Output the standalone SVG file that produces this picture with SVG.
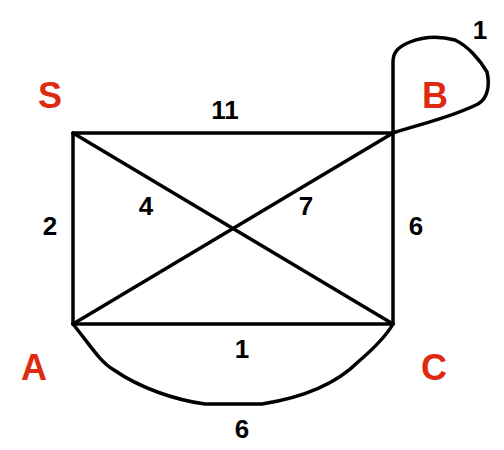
<svg xmlns="http://www.w3.org/2000/svg" width="504" height="450" viewBox="0 0 504 450">
<style>
.e{fill:none;stroke:#000;stroke-width:3.5;stroke-linejoin:round;stroke-linecap:round}
.n{font-family:"Liberation Sans",Arial,sans-serif;font-weight:bold;font-size:36px;fill:#dd2a10;text-anchor:middle}
.w{font-family:"Liberation Sans",Arial,sans-serif;font-weight:bold;font-size:26px;fill:#000;text-anchor:middle}
</style>
<rect width="504" height="450" fill="#fff"/>
<g id="edges">
<path class="e" d="M73,133 L393,133"/>
<path class="e" d="M73,133 L73,324"/>
<path class="e" d="M393,133 L393,324"/>
<path class="e" d="M73,324 L393,324"/>
<path class="e" d="M73,133 L393,324"/>
<path class="e" d="M393,133 L73,324"/>
<path class="e" d="M73,324 C90,345 100,362 114,370 C140,388 175,400 205,404 L262,404 C300,398 335,385 358,362 C372,350 385,338 393,324"/>
<path class="e" d="M393,133 L393,62 C393,52 398,47 410,42 C425,36 440,36 455,40 C468,46 480,60 487,72 C490,85 488,98 478,104 C450,118 420,124 393,133"/>
<text class="w" x="225" y="119">11</text>
<text class="w" x="50" y="235">2</text>
<text class="w" x="146" y="215">4</text>
<text class="w" x="306" y="215">7</text>
<text class="w" x="416" y="235">6</text>
<text class="w" x="242" y="358">1</text>
<text class="w" x="242" y="438">6</text>
<text class="w" x="480" y="39">1</text>
</g>
<g id="S"><text class="n" x="50" y="108">S</text></g>
<g id="B"><text class="n" x="435" y="108">B</text></g>
<g id="A"><text class="n" x="34" y="380">A</text></g>
<g id="C"><text class="n" x="434" y="380">C</text></g>
</svg>
